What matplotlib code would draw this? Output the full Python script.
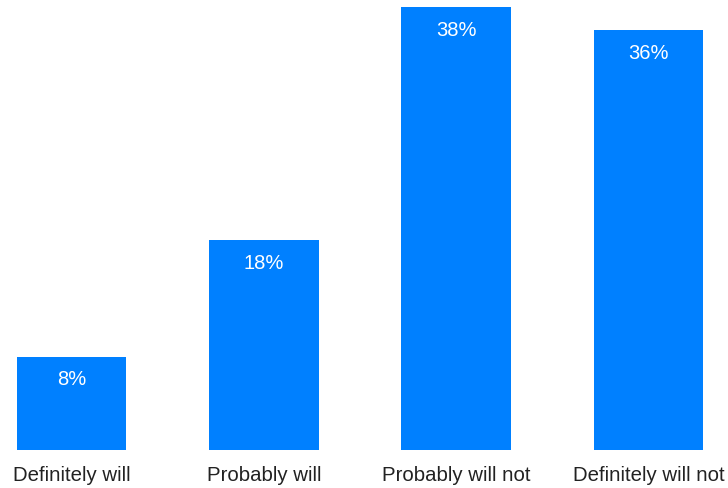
import matplotlib.pyplot as plt

categories = ['Definitely will', 'Probably will', 'Probably will not', 'Definitely will not']
values = [8, 18, 38, 36]

plt.rcParams['font.family'] = ['Liberation Sans', 'DejaVu Sans']

fig = plt.figure(figsize=(7.28, 4.89), dpi=100)
ax = fig.add_axes([0, 38 / 489, 1, 451 / 489])

x = list(range(len(categories)))
bars = ax.bar(x, values, width=0.57, color='#0080FF')

for b, v in zip(bars, values):
    ax.annotate(f'{v}%', xy=(b.get_x() + b.get_width() / 2, b.get_height()),
                xytext=(0, -16), textcoords='offset points',
                ha='center', va='center', color='white', fontsize=14.5)

ax.set_xlim(-0.372, 3.413)
ax.set_ylim(0, 38.68)
ax.set_xticks(x)
ax.set_xticklabels(categories, fontsize=14.7, color='#222222')
ax.tick_params(axis='x', length=0, pad=11)
ax.set_yticks([])
for s in ax.spines.values():
    s.set_visible(False)

fig.savefig('out.png', dpi=100)
